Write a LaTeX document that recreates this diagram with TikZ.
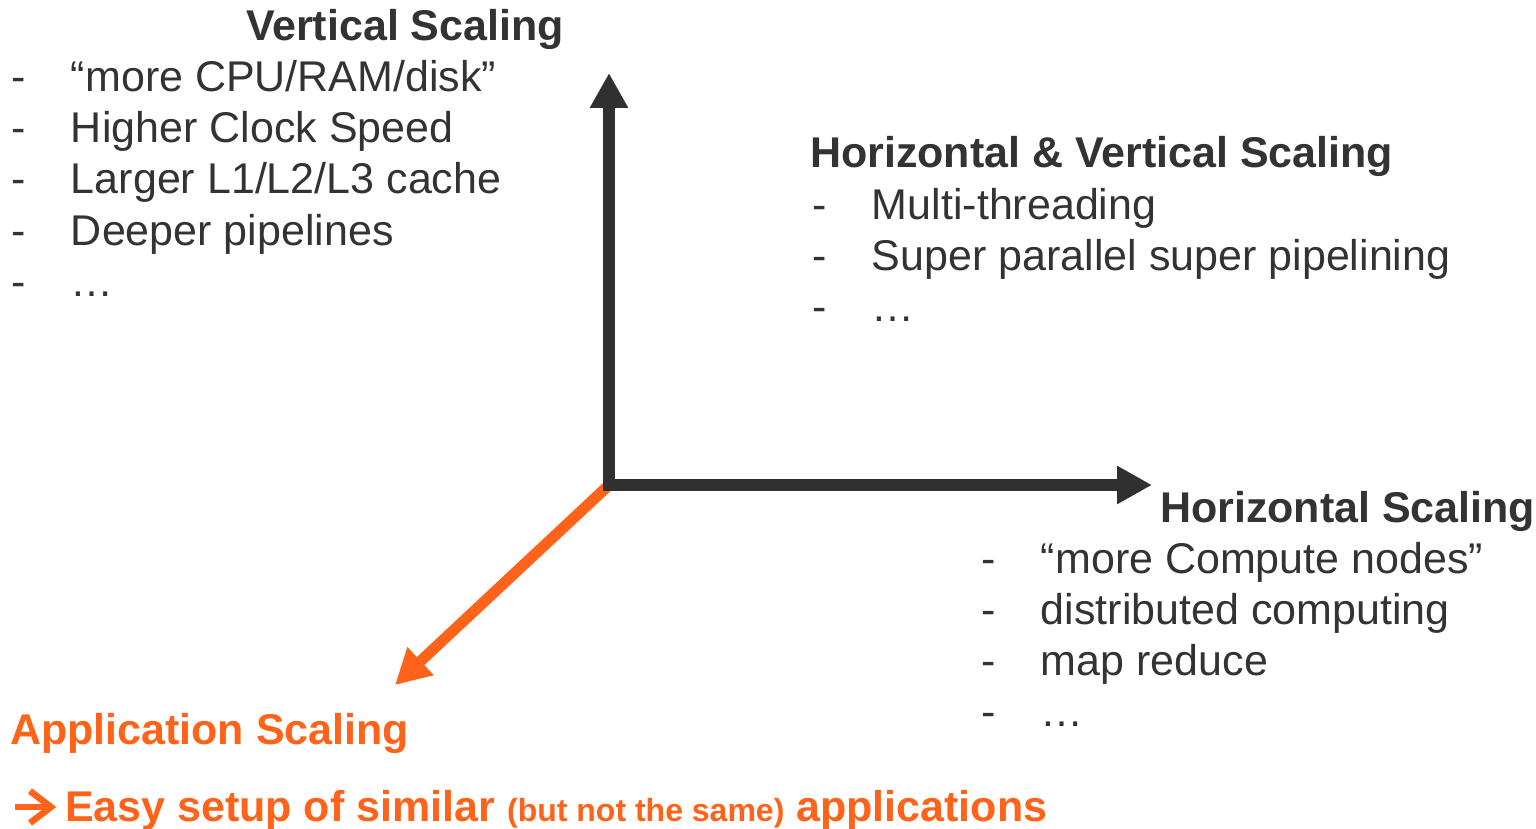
\documentclass[tikz,border=0pt]{standalone}
\usepackage{fontspec}
\setmainfont{Liberation Sans}
\usetikzlibrary{arrows.meta}

\definecolor{axisgray}{HTML}{303030}
\definecolor{textgray}{HTML}{333333}
\definecolor{apporange}{HTML}{FF6319}

\tikzset{
  headline/.style={font=\bfseries\fontsize{43}{51}\selectfont, text=textgray,
    anchor=base west, inner sep=0pt, outer sep=0pt},
  itemline/.style={font=\fontsize{43}{51}\selectfont, text=textgray,
    anchor=base west, inner sep=0pt, outer sep=0pt},
  apphead/.style={headline, text=apporange},
  bigtip/.tip={Triangle[length=35pt, width=36pt]},
  axisline/.style={draw=axisgray, line width=12.5pt, line join=miter},
  appline/.style={draw=apporange, line width=11pt},
  pointer/.style={draw=apporange, line width=6.5pt, line join=miter},
}
\newcommand\listitem[1]{\makebox[60pt][l]{-}#1}

\begin{document}
\begin{tikzpicture}[x=1pt, y=-1pt]
  \useasboundingbox (0,0) rectangle (1536,829);

  % axis end points
  \coordinate (O)    at (609,485);
  \coordinate (vtip) at (609,73);
  \coordinate (htip) at (1152,485);
  \coordinate (atip) at (395,685);

  % application axis (drawn below the others)
  \draw[appline, -bigtip] (O) -- (atip);
  % vertical and horizontal axes
  \draw[axisline, bigtip-bigtip] (vtip) -- (O) -- (htip);

  % vertical scaling
  \node[headline] (vtitle) at (246,41) {Vertical Scaling};
  \node[itemline] (v1) at (11,92)  {\listitem{“more CPU/RAM/disk”}};
  \node[itemline] (v2) at (11,143) {\listitem{Higher Clock Speed}};
  \node[itemline] (v3) at (11,194) {\listitem{Larger L1/L2/L3 cache}};
  \node[itemline] (v4) at (11,245) {\listitem{Deeper pipelines}};
  \node[itemline] (v5) at (11,296) {\listitem{…}};

  % horizontal & vertical scaling
  \node[headline] (hvtitle) at (810,168) {Horizontal \& Vertical Scaling};
  \node[itemline] (hv1) at (812,219) {\listitem{Multi-threading}};
  \node[itemline] (hv2) at (812,270) {\listitem{Super parallel super pipelining}};
  \node[itemline] (hv3) at (812,321) {\listitem{…}};

  % horizontal scaling
  \node[headline] (htitle) at (1160,522) {Horizontal Scaling};
  \node[itemline] (h1) at (981,573) {\listitem{“more Compute nodes”}};
  \node[itemline] (h2) at (981,624) {\listitem{distributed computing}};
  \node[itemline] (h3) at (981,675) {\listitem{map reduce}};
  \node[itemline] (h4) at (981,726) {\listitem{…}};

  % application scaling
  \node[apphead] (atitle) at (10,744) {Application Scaling};
  \node[apphead] (anote) at (65,821)
    {Easy setup of similar
     {\fontsize{32}{38}\selectfont (but not the same)} applications};

  % leading arrow of the note line
  \coordinate (ptail) at (15,807);
  \coordinate (ptip)  at (51,807);
  \coordinate (pup)   at (30,791);
  \coordinate (pdown) at (30,823);
  \draw[pointer] (ptail) -- (ptip);
  \draw[pointer] (pup) -- (ptip) -- (pdown);
\end{tikzpicture}
\end{document}
